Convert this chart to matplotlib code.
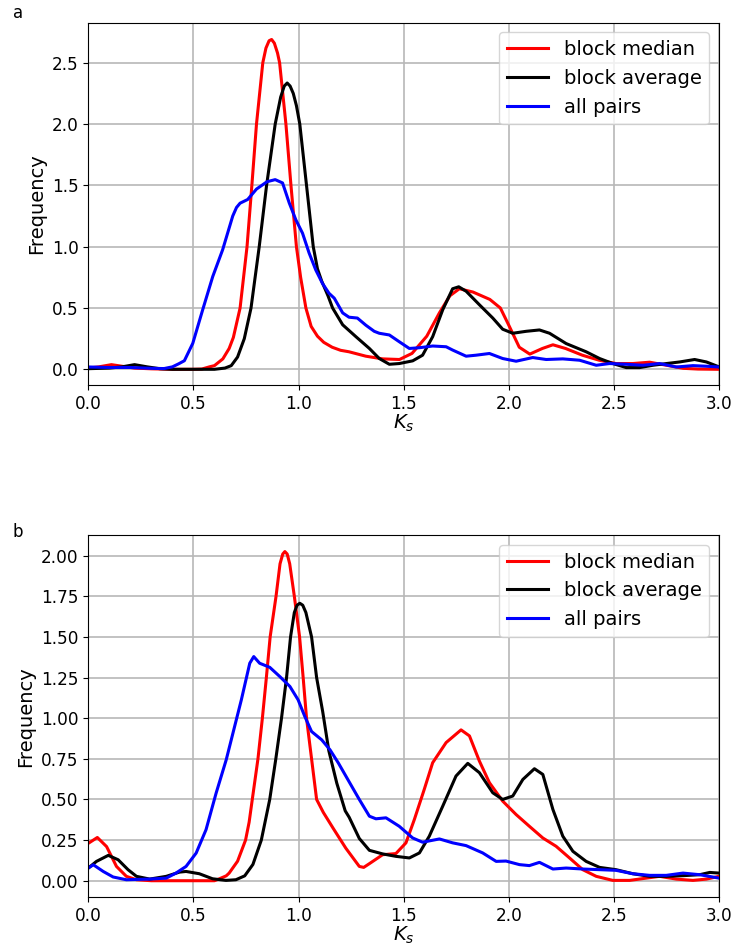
import matplotlib
matplotlib.use("Agg")
import matplotlib.pyplot as plt

# ---------------- data ----------------
labels = ["block median", "block average", "all pairs"]
colors = ["red", "black", "blue"]
xticks = [0.0, 0.5, 1.0, 1.5, 2.0, 2.5, 3.0]
yticks_a = [0.0, 0.5, 1.0, 1.5, 2.0, 2.5]
yticks_b = [0.0, 0.25, 0.5, 0.75, 1.0, 1.25, 1.5, 1.75, 2.0]

# panel a
med_a_x = [0.0, 0.05, 0.11, 0.16, 0.22, 0.3, 0.4, 0.5, 0.54, 0.576, 0.6, 0.64, 0.67, 0.69,
           0.722, 0.755, 0.778, 0.80, 0.83, 0.845, 0.86, 0.872, 0.885, 0.90, 0.91, 0.94, 0.964,
           0.99, 1.01, 1.035, 1.06, 1.09, 1.12, 1.16, 1.2, 1.24, 1.32, 1.40, 1.48, 1.54, 1.57,
           1.61, 1.67, 1.72, 1.765, 1.83, 1.87, 1.91, 1.96, 2.0, 2.05, 2.1, 2.16, 2.21, 2.27,
           2.35, 2.43, 2.51, 2.59, 2.67, 2.75, 2.83, 2.9, 3.0]
med_a_y = [0.01, 0.02, 0.038, 0.025, 0.01, 0.004, 0.0, 0.0, 0.002, 0.02, 0.03, 0.085, 0.17, 0.26,
           0.5, 1.0, 1.5, 2.0, 2.5, 2.62, 2.68, 2.69, 2.66, 2.58, 2.5, 2.0, 1.5,
           1.0, 0.75, 0.5, 0.35, 0.27, 0.22, 0.18, 0.155, 0.143, 0.107, 0.085, 0.08, 0.13, 0.19,
           0.27, 0.46, 0.6, 0.657, 0.63, 0.6, 0.57, 0.5, 0.36, 0.18, 0.124, 0.17, 0.2, 0.17,
           0.115, 0.074, 0.047, 0.047, 0.058, 0.033, 0.008, 0.002, 0.0]

avg_a_x = [0.0, 0.1, 0.16, 0.22, 0.28, 0.34, 0.4, 0.6, 0.65, 0.68, 0.71, 0.742, 0.774, 0.813,
           0.848, 0.889, 0.915, 0.932, 0.946, 0.96, 0.975, 0.99, 1.006, 1.038, 1.07, 1.09, 1.11,
           1.14, 1.162, 1.21, 1.273, 1.337, 1.384, 1.432, 1.479, 1.543, 1.59, 1.638, 1.686,
           1.733, 1.762, 1.797, 1.86, 1.924, 1.971, 2.019, 2.083, 2.146, 2.194, 2.273, 2.368,
           2.432, 2.495, 2.559, 2.622, 2.686, 2.75, 2.813, 2.884, 2.94, 3.0]
avg_a_y = [0.005, 0.01, 0.02, 0.038, 0.02, 0.005, 0.0, 0.0, 0.01, 0.03, 0.1, 0.25, 0.5, 1.0,
           1.5, 2.0, 2.22, 2.31, 2.335, 2.31, 2.25, 2.15, 2.0, 1.5, 1.0, 0.82, 0.72,
           0.6, 0.5, 0.363, 0.266, 0.17, 0.088, 0.041, 0.047, 0.069, 0.115, 0.266, 0.486,
           0.657, 0.673, 0.637, 0.527, 0.418, 0.327, 0.294, 0.31, 0.321, 0.294, 0.21, 0.143,
           0.088, 0.047, 0.014, 0.014, 0.033, 0.047, 0.06, 0.08, 0.06, 0.02]

all_a_x = [0.0, 0.1, 0.2, 0.3, 0.36, 0.4, 0.43, 0.457, 0.497, 0.544, 0.592, 0.639, 0.687, 0.705,
           0.722, 0.74, 0.758, 0.8, 0.85, 0.889, 0.924, 0.956, 0.987, 1.019, 1.05, 1.082, 1.114,
           1.145, 1.17, 1.21, 1.24, 1.28, 1.32, 1.36, 1.384, 1.432, 1.479, 1.527, 1.575, 1.638,
           1.702, 1.733, 1.797, 1.844, 1.908, 1.971, 2.035, 2.114, 2.178, 2.257, 2.337, 2.416,
           2.479, 2.559, 2.638, 2.717, 2.797, 2.876, 2.94, 3.0]
all_a_y = [0.019, 0.015, 0.015, 0.008, 0.006, 0.02, 0.045, 0.07, 0.212, 0.485, 0.757, 0.975, 1.25, 1.32,
           1.355, 1.37, 1.385, 1.47, 1.53, 1.547, 1.52, 1.356, 1.22, 1.11, 0.95, 0.81, 0.70,
           0.62, 0.58, 0.46, 0.425, 0.418, 0.36, 0.31, 0.294, 0.28, 0.225, 0.17, 0.176, 0.19,
           0.184, 0.157, 0.107, 0.115, 0.129, 0.088, 0.066, 0.096, 0.08, 0.085, 0.074, 0.033,
           0.047, 0.041, 0.033, 0.047, 0.019, 0.03, 0.025, 0.019]

# panel b
med_b_x = [0.0, 0.043, 0.087, 0.134, 0.181, 0.229, 0.3, 0.6, 0.62, 0.656, 0.67, 0.71, 0.748, 0.765,
           0.78, 0.807, 0.828, 0.847, 0.865, 0.893, 0.912, 0.925, 0.935, 0.946, 0.958, 0.98, 1.005,
           1.022, 1.038, 1.062, 1.086, 1.118, 1.166, 1.225, 1.289, 1.31, 1.337, 1.4, 1.463, 1.511,
           1.551, 1.598, 1.638, 1.702, 1.773, 1.813, 1.86, 1.908, 1.971, 2.035, 2.098, 2.162,
           2.225, 2.289, 2.352, 2.416, 2.495, 2.575, 2.654, 2.717, 2.797, 2.876, 2.94, 3.0]
med_b_y = [0.23, 0.266, 0.21, 0.088, 0.027, 0.006, 0.0, 0.0, 0.01, 0.03, 0.047, 0.12, 0.25, 0.36,
           0.5, 0.75, 1.0, 1.25, 1.5, 1.75, 1.95, 2.01, 2.025, 2.01, 1.95, 1.75, 1.5,
           1.25, 1.0, 0.75, 0.5, 0.42, 0.32, 0.2, 0.088, 0.082, 0.105, 0.16, 0.167, 0.233,
           0.377, 0.562, 0.726, 0.85, 0.928, 0.891, 0.737, 0.603, 0.49, 0.407, 0.335, 0.263,
           0.212, 0.14, 0.068, 0.027, 0.002, 0.002, 0.016, 0.027, 0.01, 0.002, 0.01, 0.027]

avg_b_x = [0.0, 0.039, 0.095, 0.142, 0.189, 0.229, 0.292, 0.371, 0.434, 0.465, 0.528, 0.591, 0.655,
           0.702, 0.744, 0.783, 0.823, 0.863, 0.892, 0.919, 0.943, 0.962, 0.98, 0.993, 1.006,
           1.02, 1.035, 1.062, 1.086, 1.115, 1.144, 1.182, 1.222, 1.241, 1.289, 1.337, 1.4, 1.463,
           1.527, 1.575, 1.622, 1.686, 1.749, 1.805, 1.86, 1.924, 1.971, 2.019, 2.067, 2.122,
           2.162, 2.21, 2.257, 2.305, 2.368, 2.432, 2.51, 2.59, 2.67, 2.749, 2.829, 2.908, 2.956, 3.0]
avg_b_y = [0.078, 0.119, 0.156, 0.129, 0.068, 0.027, 0.01, 0.027, 0.053, 0.057, 0.043, 0.012, 0.002,
           0.006, 0.03, 0.1, 0.25, 0.5, 0.75, 1.0, 1.25, 1.5, 1.65, 1.695, 1.707,
           1.695, 1.65, 1.5, 1.25, 1.04, 0.8, 0.6, 0.43, 0.39, 0.26, 0.187, 0.165, 0.15,
           0.14, 0.171, 0.274, 0.459, 0.644, 0.722, 0.665, 0.541, 0.5, 0.521, 0.623, 0.689,
           0.654, 0.438, 0.274, 0.181, 0.119, 0.082, 0.068, 0.043, 0.027, 0.027, 0.031, 0.037, 0.051, 0.047]

all_b_x = [0.0, 0.024, 0.071, 0.118, 0.181, 0.292, 0.371, 0.417, 0.465, 0.513, 0.56, 0.608, 0.656,
           0.696, 0.728, 0.768, 0.787, 0.815, 0.863, 0.911, 0.959, 0.998, 1.03, 1.062, 1.11,
           1.15, 1.19, 1.225, 1.289, 1.337, 1.368, 1.416, 1.479, 1.543, 1.59, 1.67, 1.733,
           1.797, 1.876, 1.94, 1.987, 2.051, 2.098, 2.146, 2.21, 2.273, 2.352, 2.432, 2.51,
           2.59, 2.67, 2.749, 2.829, 2.908, 3.0]
all_b_y = [0.078, 0.098, 0.057, 0.023, 0.006, 0.01, 0.016, 0.047, 0.088, 0.17, 0.314, 0.539, 0.744,
           0.949, 1.113, 1.338, 1.379, 1.338, 1.313, 1.256, 1.195, 1.113, 1.01, 0.918, 0.867,
           0.805, 0.723, 0.644, 0.5, 0.397, 0.381, 0.387, 0.335, 0.263, 0.237, 0.257, 0.233,
           0.216, 0.171, 0.119, 0.121, 0.099, 0.093, 0.113, 0.072, 0.078, 0.072, 0.068, 0.064,
           0.043, 0.033, 0.033, 0.047, 0.037, 0.016]

panels = [
    ("a", [(med_a_x, med_a_y), (avg_a_x, avg_a_y), (all_a_x, all_a_y)], yticks_a, (-0.128, 2.827)),
    ("b", [(med_b_x, med_b_y), (avg_b_x, avg_b_y), (all_b_x, all_b_y)], yticks_b, (-0.102, 2.127)),
]

# ---------------- figure ----------------
fig = plt.figure(figsize=(7.36, 9.49), dpi=100)
W, H = 736, 949
boxes = [(88.3, 22.7, 719, 385), (88.3, 535, 719, 897.3)]
letter_pos = [(13, 18), (13, 537)]

for (name, series, yt, ylim), (l, t, r, b), (lx, ly) in zip(panels, boxes, letter_pos):
    ax = fig.add_axes([l / W, 1 - b / H, (r - l) / W, (b - t) / H])
    for (xs, ys), c, lab in zip(series, colors, labels):
        ax.plot(xs, ys, color=c, lw=2.2, label=lab, solid_joinstyle="round")
    ax.set_xlim(0, 3.0)
    ax.set_ylim(*ylim)
    ax.set_xticks(xticks)
    ax.set_yticks(yt)
    if name == "b":
        ax.set_yticklabels([f"{v:.2f}" for v in yt])
    else:
        ax.set_yticklabels([f"{v:.1f}" for v in yt])
    ax.set_xticklabels([f"{v:.1f}" for v in xticks])
    ax.tick_params(labelsize=12.2)
    ax.grid(True, color="#b8b8b8", lw=1.2)
    ax.set_axisbelow(True)
    ax.set_xlabel("$K_s$", fontsize=14, labelpad=0)
    ax.set_ylabel("Frequency", fontsize=14)
    ax.legend(loc="upper right", fontsize=14, handlelength=2.1)
    fig.text(lx / W, 1 - ly / H, name, fontsize=12, ha="left", va="baseline")

fig.savefig("out.png", dpi=100)
